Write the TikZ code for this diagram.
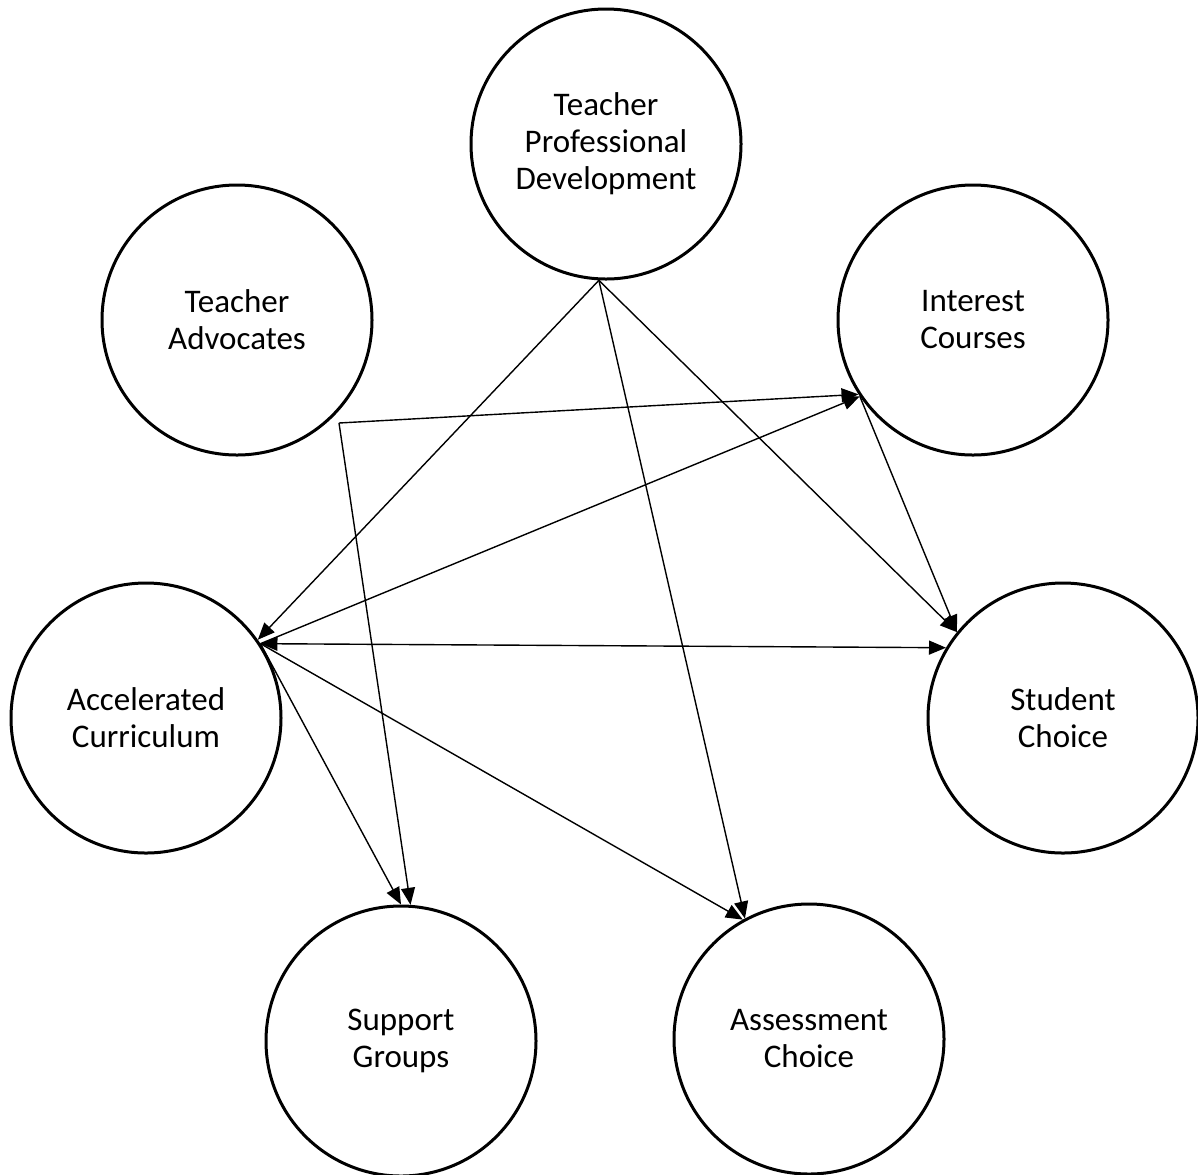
\documentclass[tikz,border=0pt]{standalone}
\usepackage{fontspec}
\setmainfont{Carlito}
\usetikzlibrary{arrows.meta}
\begin{document}
\begin{tikzpicture}[x=0.5pt,y=-0.5pt,
  bub/.style={draw,circle,line width=1.5pt,minimum size=135pt,inner sep=0pt,align=center,
    font=\fontsize{16.5pt}{18.5pt}\selectfont},
  con/.style={line width=0.7pt,-{Triangle[length=8.5pt,width=7pt]}},
  dcon/.style={line width=0.7pt,{Triangle[length=8.5pt,width=7pt]}-{Triangle[length=8.5pt,width=7pt]}}]
\useasboundingbox (0,0) rectangle (1198,1174);
\node[bub] (TPD) at (606,144) {Teacher\\Professional\\Development};
\node[bub] (TA) at (237,320) {Teacher\\Advocates};
\node[bub] (IC) at (973,320) {Interest\\Courses};
\node[bub] (AC) at (146,718) {Accelerated\\Curriculum};
\node[bub] (SC) at (1063,718) {Student\\Choice};
\node[bub] (SG) at (401,1041) {Support\\Groups};
\node[bub] (ASC) at (809,1039) {Assessment\\Choice};
\coordinate (C) at (339,423);
% from Teacher Professional Development
\draw[con] (TPD.-93) -- (AC.35);
\draw[con] (TPD.-93) -- (SC.141);
\draw[con] (TPD.-93) -- (ASC.118);
% from free corner
\draw[con] (C) -- (IC.213);
\draw[con] (C) -- (SG.86);
% from Accelerated Curriculum
\draw[con] (AC.33) -- (IC.214);
\draw[dcon] (AC.33) -- (SC.149);
\draw[con] (AC.33) -- (SG.90);
\draw[con] (AC.33) -- (ASC.119);
% Interest Courses to Student Choice
\draw[con] (IC.214) -- (SC.141);
\end{tikzpicture}
\end{document}
